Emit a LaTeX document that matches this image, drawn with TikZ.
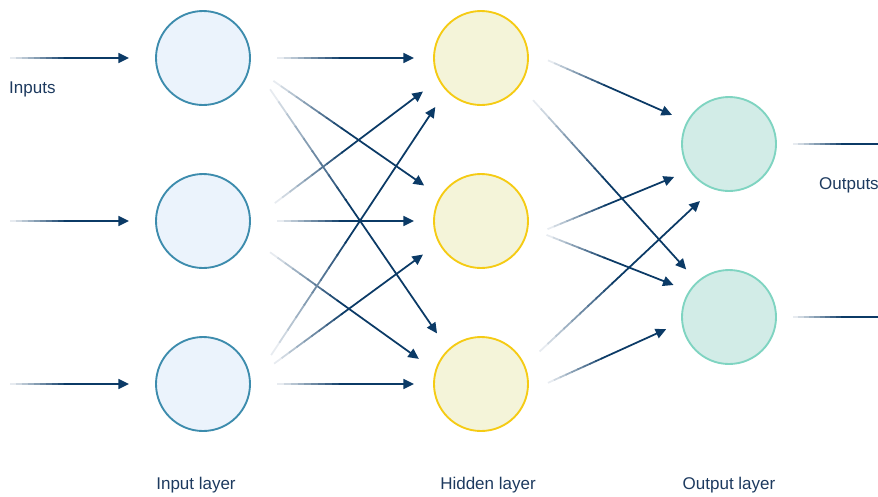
\documentclass[tikz,border=0pt]{standalone}
\usepackage{fontspec}
\setmainfont{Liberation Sans}
\usetikzlibrary{arrows.meta,calc}

\definecolor{wireblue}{HTML}{0B3A66}
\definecolor{labelblue}{HTML}{1D3A5F}
\definecolor{infill}{HTML}{EBF3FC}
\definecolor{indraw}{HTML}{3D8CAD}
\definecolor{hidfill}{HTML}{F4F4D9}
\definecolor{hiddraw}{HTML}{F5CB14}
\definecolor{outfill}{HTML}{D2ECE7}
\definecolor{outdraw}{HTML}{7FD4C1}

% connector: pale at the tail, full colour from about halfway to the tip
\newcommand\netlink[2]{%
  \foreach \k [count=\j from 0] in {1,...,9}
    \draw[wire, wireblue!\k0!white] ($(#1)!\j*0.05!(#2)$) -- ($(#1)!\k*0.05+0.005!(#2)$);
  \draw[wire, wireblue, -{Triangle[length=9pt,width=8.5pt]}] ($(#1)!0.45!(#2)$) -- (#2);
}

\begin{document}
\begin{tikzpicture}[
    x=0.03cm, y=-0.03cm,
    wire/.style={line width=1.5pt},
    neuron/.style={circle, line width=1.6pt, minimum size=2.82cm, inner sep=0pt},
    inlayer/.style={neuron, draw=indraw, fill=infill, outer sep=0.81cm},
    hidlayer/.style={neuron, draw=hiddraw, fill=hidfill, outer sep=0.6cm},
    outlayer/.style={neuron, draw=outdraw, fill=outfill, outer sep=0.51cm},
    caption/.style={text=labelblue, inner sep=0pt, font=\fontsize{14.5}{17}\selectfont}
  ]
    \useasboundingbox (0,0) rectangle (878,496);

    % Neurons
    \foreach \n/\y in {1/58, 2/221, 3/384} {
      \node[inlayer] (i\n) at (203,\y) {};
      \node[hidlayer] (h\n) at (481,\y) {};
      \coordinate (in\n) at (10,\y);
    }
    \node[outlayer] (o1) at (729,144) {};
    \node[outlayer] (o2) at (729,317) {};
    \coordinate (out1) at (900,144);
    \coordinate (out2) at (900,317);

    % Inputs and outputs
    \foreach \n in {1,2,3} {
      \netlink{in\n}{i\n.west}
    }
    \netlink{o1.east}{out1}
    \netlink{o2.east}{out2}

    % Input layer to hidden layer
    \netlink{i1.east}{h1.west}
    \netlink{i1.-18}{h2.148}
    \netlink{i1.-25}{h3.131}
    \netlink{i2.14}{h1.210}
    \netlink{i2.east}{h2.west}
    \netlink{i2.-25}{h3.158}
    \netlink{i3.23}{h1.227}
    \netlink{i3.16}{h2.210}
    \netlink{i3.east}{h3.west}

    % Hidden layer to output layer
    \netlink{h1.-2}{o1.153}
    \netlink{h1.-39}{o2.132}
    \netlink{h2.-7}{o1.211}
    \netlink{h2.-12}{o2.150}
    \netlink{h3.29}{o1.243}
    \netlink{h3.1}{o2.191}

    % Labels
    \node[caption, anchor=west] (inlab) at (9,89) {Inputs};
    \node[caption, anchor=west] (outlab) at (819,185) {Outputs};
    \node[caption] (ilayer) at (196,485) {Input layer};
    \node[caption] (hlayer) at (488,485) {Hidden layer};
    \node[caption] (olayer) at (729,485) {Output layer};
  \end{tikzpicture}
\end{document}
